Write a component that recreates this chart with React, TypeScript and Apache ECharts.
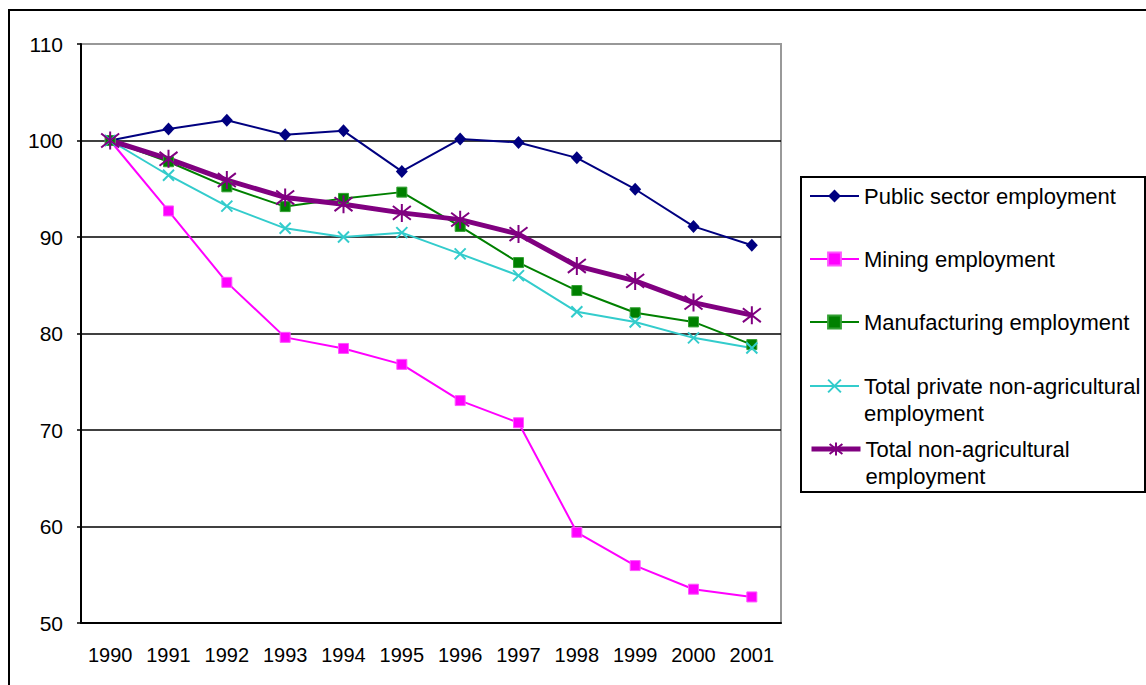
import React, { useEffect, useRef } from "react";
import * as echarts from "echarts";

const years = ["1990", "1991", "1992", "1993", "1994", "1995", "1996", "1997", "1998", "1999", "2000", "2001"];
const publicSector = [100, 101.2, 102.1, 100.6, 101.0, 96.8, 100.15, 99.8, 98.2, 94.95, 91.1, 89.15];
const mining = [100, 92.7, 85.3, 79.6, 78.45, 76.8, 73.05, 70.75, 59.4, 55.95, 53.5, 52.7];
const manufacturing = [100, 97.8, 95.2, 93.15, 94.0, 94.65, 91.1, 87.35, 84.45, 82.15, 81.2, 78.85];
const totalPrivate = [100, 96.4, 93.2, 90.9, 90.0, 90.45, 88.25, 86.0, 82.25, 81.2, 79.55, 78.5];
const totalNonAg = [100, 98.1, 95.9, 94.1, 93.4, 92.5, 91.8, 90.3, 87.0, 85.45, 83.2, 81.9];
const yTicks = [50, 60, 70, 80, 90, 100, 110];

const names = [
  "Public sector employment",
  "Mining employment",
  "Manufacturing employment",
  "Total private non-agricultural employment",
  "Total non-agricultural employment",
];
const legendLabels = [
  "Public sector employment",
  "Mining employment",
  "Manufacturing employment",
  "\nTotal private non-agricultural\nemployment",
  "\nTotal non-agricultural\nemployment",
];
const legendTops = [182.5, 245.5, 308.5, 345.5, 408.5];
const legendLineWidths = [2, 2, 2, 2, 5];

const FONT = "'Liberation Sans', Arial, Helvetica, sans-serif";

export default function App() {
  const ref = useRef<HTMLDivElement>(null);
  useEffect(() => {
    if (!ref.current) return;
    const chart = echarts.init(ref.current, undefined, { renderer: "svg" });
    const xPath = "path://M0,0L10,10M10,0L0,10";
    const starPath = "path://M0,0L10,10M10,0L0,10M5,-1.5L5,11.5";
    const series: any[] = [
      {
        name: names[0], type: "line", data: publicSector, symbol: "diamond", symbolSize: [12, 13],
        lineStyle: { color: "#000080", width: 2 }, itemStyle: { color: "#000080" },
      },
      {
        name: names[1], type: "line", data: mining, symbol: "rect", symbolSize: 10,
        lineStyle: { color: "#FF00FF", width: 2 }, itemStyle: { color: "#FF00FF", borderColor: "#FF55FF", borderWidth: 1 },
      },
      {
        name: names[2], type: "line", data: manufacturing, symbol: "rect", symbolSize: 10,
        lineStyle: { color: "#008000", width: 2 }, itemStyle: { color: "#008000", borderColor: "#33A033", borderWidth: 1 },
      },
      {
        name: names[3], type: "line", data: totalPrivate, symbol: xPath, symbolSize: 11,
        lineStyle: { color: "#33CCCC", width: 2 }, itemStyle: { color: "#33CCCC", borderColor: "#33CCCC", borderWidth: 2 },
      },
      {
        name: names[4], type: "line", data: totalNonAg, symbol: starPath, symbolSize: 18,
        lineStyle: { color: "#800080", width: 5 }, itemStyle: { color: "#800080", borderColor: "#800080", borderWidth: 2 },
      },
    ];
    const legends = names.map((n, i) => ({
      data: [n],
      orient: "vertical",
      left: 809,
      top: legendTops[i],
      padding: 0,
      itemWidth: 49,
      itemHeight: 16,
      selectedMode: false,
      formatter: () => legendLabels[i],
      lineStyle: { width: legendLineWidths[i] },
      textStyle: { fontSize: 22, fontFamily: FONT, color: "#000", lineHeight: 27 },
    }));
    chart.setOption({
      animation: false,
      backgroundColor: "#fff",
      grid: {
        left: 81, top: 44, width: 700, height: 579,
        show: true, borderColor: "#999", borderWidth: 2, backgroundColor: "#fff",
      },
      legend: legends,
      xAxis: {
        type: "category",
        data: years,
        boundaryGap: true,
        axisLine: { lineStyle: { color: "#000", width: 2 } },
        axisTick: { show: false },
        axisLabel: { fontSize: 20, fontFamily: FONT, color: "#000", margin: 22 },
      },
      yAxis: {
        type: "value",
        min: yTicks[0],
        max: yTicks[yTicks.length - 1],
        interval: 10,
        axisLine: { show: true, lineStyle: { color: "#000", width: 2 } },
        axisTick: { show: true, inside: false, length: 4, lineStyle: { color: "#000", width: 1.5 } },
        axisLabel: { fontSize: 21, fontFamily: FONT, color: "#000", margin: 18 },
        splitLine: {
          show: true,
          lineStyle: { color: ["#000", "#000", "#000", "#000", "#000", "#000", "#999"], width: 1.5 },
        },
      },
      graphic: [
        {
          type: "rect", silent: true, z: 100,
          shape: { x: 9, y: 10, width: 1400, height: 1000 },
          style: { fill: "none", stroke: "#000", lineWidth: 2 },
        },
        {
          type: "rect", silent: true, z: 100,
          shape: { x: 801, y: 177, width: 344, height: 315 },
          style: { fill: "none", stroke: "#000", lineWidth: 2 },
        },
      ],
      series,
    });
    return () => chart.dispose();
  }, []);
  return (
    <div
      ref={ref}
      style={{ position: "fixed", left: 0, top: 0, width: 1146, height: 685, background: "#fff" }}
    />
  );
}
